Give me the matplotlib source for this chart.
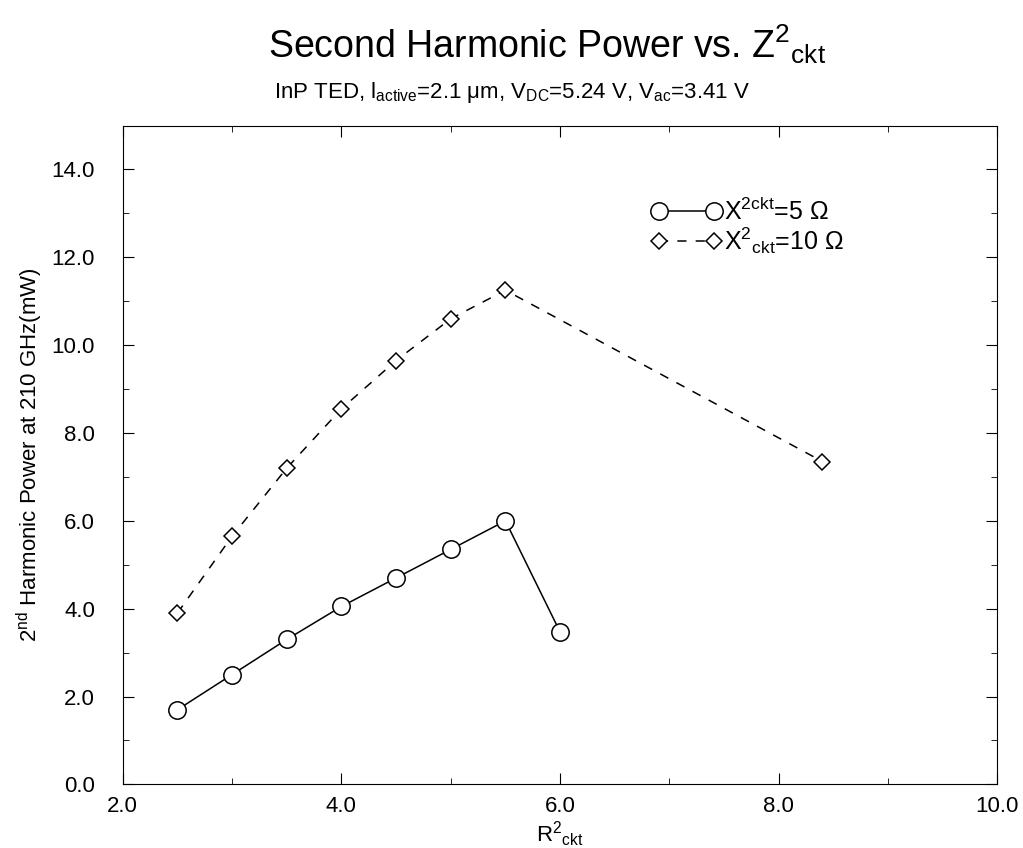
import matplotlib
matplotlib.use("Agg")
import matplotlib.pyplot as plt
from matplotlib.ticker import MultipleLocator, FormatStrFormatter

plt.rcParams["font.family"] = ["Liberation Sans", "DejaVu Sans"]
plt.rcParams["mathtext.fontset"] = "custom"
plt.rcParams["mathtext.rm"] = "Liberation Sans"
plt.rcParams["mathtext.it"] = "Liberation Sans:italic"

# ── data ──
r_ckt_5 = [2.5, 3.0, 3.5, 4.0, 4.5, 5.0, 5.5, 6.0]
power_5 = [1.70, 2.50, 3.30, 4.05, 4.70, 5.35, 6.00, 3.47]

r_ckt_10 = [2.5, 3.0, 3.5, 4.0, 4.5, 5.0, 5.5, 8.4]
power_10 = [3.90, 5.65, 7.20, 8.55, 9.65, 10.60, 11.25, 7.35]

label_5 = r"X$^{2\mathrm{ckt}}$=5 Ω"
label_10 = r"X$^{2}$$_{\mathrm{ckt}}$=10 Ω"

fig = plt.figure(figsize=(10.23, 8.48), dpi=100)
ax = fig.add_axes([0.12, 0.075, 0.855, 0.777])

ax.plot(r_ckt_5, power_5, color="black", lw=1.1, marker="o", ms=12.5,
        mfc="white", mec="black", mew=1.1, label=label_5)
ax.plot(r_ckt_10, power_10, color="black", lw=1.1, ls=(0, (6, 6)),
        marker="D", ms=8.5, mfc="white", mec="black", mew=1.1,
        label=label_10)

ax.set_xlim(2.0, 10.0)
ax.set_ylim(0.0, 15.0)
ax.xaxis.set_major_locator(MultipleLocator(2.0))
ax.xaxis.set_minor_locator(MultipleLocator(1.0))
ax.yaxis.set_major_locator(MultipleLocator(2.0))
ax.yaxis.set_minor_locator(MultipleLocator(1.0))
ax.xaxis.set_major_formatter(FormatStrFormatter("%.1f"))
ax.yaxis.set_major_formatter(FormatStrFormatter("%.1f"))
ax.tick_params(which="both", direction="in", top=True, right=True,
               labelsize=16)
ax.tick_params(which="major", length=8)
ax.tick_params(which="minor", length=4)
ax.tick_params(axis="y", which="major", pad=20)
ax.tick_params(axis="x", which="major", pad=8)

ax.set_xlabel(r"R$^{2}$$_{\mathrm{ckt}}$", fontsize=16, labelpad=2)
ax.set_ylabel(r"2$^{\mathrm{nd}}$ Harmonic Power at 210 GHz(mW)",
              fontsize=16, labelpad=5)

leg = ax.legend(loc="upper right", bbox_to_anchor=(0.85, 0.925), frameon=False,
                fontsize=18, numpoints=2, handlelength=2.8,
                handletextpad=0.1, labelspacing=0.05)

fig.text(0.535, 0.948, r"Second Harmonic Power vs. Z$^{2}$$_{\mathrm{ckt}}$",
         ha="center", va="center", fontsize=27)
fig.text(0.50, 0.891,
         r"InP TED, l$_{\mathrm{active}}$=2.1 μm, V$_{\mathrm{DC}}$=5.24 V, "
         r"V$_{\mathrm{ac}}$=3.41 V",
         ha="center", va="center", fontsize=16)

fig.savefig("out.png", dpi=100)
